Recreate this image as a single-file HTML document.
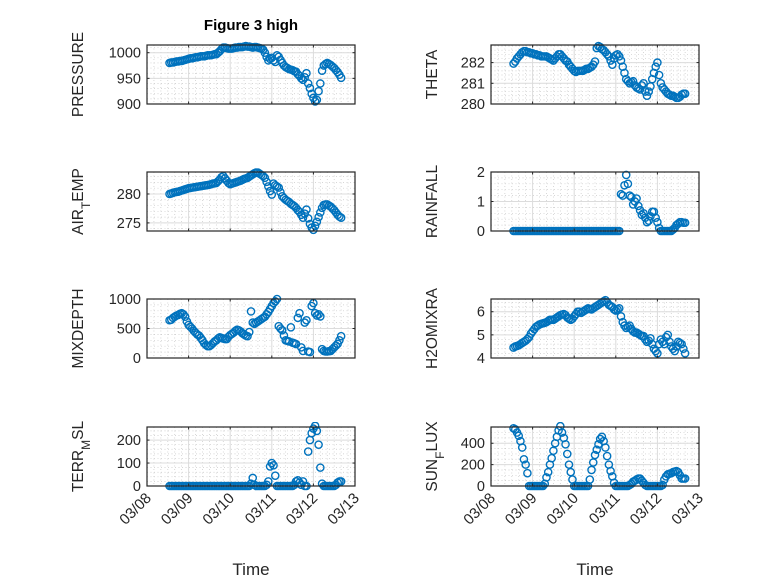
<!DOCTYPE html>
<html><head><meta charset="utf-8"><style>
html,body{margin:0;padding:0;background:#fff;}
svg{display:block;font-family:"Liberation Sans",sans-serif;}
</style></head><body>
<svg id="fig" width="778" height="583" viewBox="0 0 778 583" xmlns="http://www.w3.org/2000/svg">
<rect width="778" height="583" fill="#ffffff"/>
<text x="251" y="30" font-size="15" font-weight="bold" text-anchor="middle" fill="#000">Figure 3 high</text>
</svg>
<script>
const hours = [13,14,15,16,17,18,19,20,21,22,23,24,25,26,27,28,29,30,31,32,33,34,35,36,37,38,39,40,41,42,43,44,45,46,47,48,49,50,51,52,53,54,55,56,57,58,59,60,61,62,63,64,65,66,67,68,69,70,71,72,73,74,75,76,77,78,79,80,81,82,83,84,85,86,87,88,89,90,91,92,93,94,95,96,97,98,99,100,101,102,103,104,105,106,107,108,109,110,111,112];
const xTickLabels = ["03/08","03/09","03/10","03/11","03/12","03/13"];
const pressure = [980,981,981,982,983,983,984,984,985,986,987,988,989,989,990,991,991,992,993,993,993,994,995,995,995,996,997,997,1000,1003,1007,1010,1010,1009,1008,1008,1008,1009,1010,1010,1011,1011,1011,1012,1013,1012,1012,1011,1010,1011,1011,1010,1009,1008,1006,1000,992,985,988,990,985,982,995,992,986,980,975,972,970,968,967,966,964,963,958,955,950,947,952,960,940,931,920,912,905,908,925,940,965,975,978,980,978,976,973,970,966,962,957,951];
const theta = [281.95,282.05,282.2,282.3,282.4,282.5,282.55,282.55,282.5,282.5,282.45,282.45,282.4,282.4,282.35,282.35,282.3,282.3,282.3,282.3,282.25,282.2,282.15,282.1,282.2,282.3,282.4,282.4,282.3,282.2,282.1,282.05,281.9,281.8,281.7,281.6,281.55,281.6,281.6,281.6,281.6,281.65,281.7,281.7,281.75,281.8,281.9,282.05,282.7,282.8,282.75,282.65,282.6,282.5,282.4,282.3,282.1,281.9,282.2,282.35,282.4,282.3,282.1,281.8,281.5,281.2,281.1,281.0,281.05,281.1,280.9,280.8,280.75,280.7,280.9,281.0,280.6,280.4,280.6,280.85,281.2,281.5,281.8,282.0,281.4,281.0,280.8,280.7,280.6,280.5,280.45,280.4,280.4,280.35,280.3,280.3,280.35,280.45,280.5,280.5];
const airTemp = [280.0,280.1,280.2,280.3,280.35,280.4,280.5,280.6,280.7,280.8,280.9,281.0,281.05,281.1,281.15,281.2,281.25,281.3,281.35,281.4,281.45,281.5,281.55,281.6,281.7,281.8,281.85,281.9,282.2,282.5,282.9,283.1,282.7,282.3,281.9,281.7,281.8,281.9,282.0,282.1,282.2,282.3,282.45,282.6,282.7,282.8,283.0,283.2,283.4,283.6,283.7,283.7,283.5,283.3,283.1,282.8,282.1,281.3,280.5,279.9,281.8,281.5,281.3,281.1,280.3,279.6,279.3,279.0,278.8,278.6,278.3,278.1,277.9,277.6,277.2,276.9,276.4,275.9,276.6,277.3,275.8,274.8,274.2,273.8,274.5,275.2,276.0,276.8,277.6,278.1,278.2,278.2,278.0,277.8,277.5,277.2,276.8,276.4,276.1,275.9];
const rainfall = [0,0,0,0,0,0,0,0,0,0,0,0,0,0,0,0,0,0,0,0,0,0,0,0,0,0,0,0,0,0,0,0,0,0,0,0,0,0,0,0,0,0,0,0,0,0,0,0,0,0,0,0,0,0,0,0,0,0,0,0,0,0,1.25,1.2,1.55,1.9,1.6,1.2,1.15,0.9,1.0,1.1,0.85,0.7,0.55,0.6,0.45,0.3,0.35,0.5,0.65,0.65,0.45,0.3,0.1,0,0,0,0,0,0,0,0.05,0.1,0.2,0.25,0.3,0.3,0.28,0.28];
const mixDepth = [640,650,680,700,720,730,750,760,740,700,620,560,530,500,460,430,400,380,340,300,250,220,200,200,220,250,280,300,330,350,340,330,320,320,360,390,410,430,460,480,470,450,420,400,380,370,440,790,600,580,600,620,640,660,680,700,740,780,830,880,930,960,1000,540,500,470,380,300,290,280,520,260,250,235,680,760,180,120,600,640,110,100,880,930,760,720,740,705,150,120,110,110,115,120,150,180,210,240,300,370];
const h2oMixRa = [4.45,4.5,4.52,4.55,4.6,4.65,4.7,4.75,4.82,4.9,5.05,5.15,5.25,5.35,5.4,5.45,5.48,5.5,5.52,5.55,5.6,5.65,5.65,5.65,5.7,5.75,5.8,5.85,5.88,5.9,5.85,5.75,5.7,5.65,5.7,5.8,5.9,6.0,6.0,5.95,6.0,6.05,6.1,6.15,6.12,6.1,6.15,6.2,6.25,6.3,6.35,6.4,6.45,6.5,6.4,6.3,6.25,6.2,6.1,6.05,6.1,6.15,5.8,5.55,5.4,5.3,5.35,5.4,5.25,5.15,5.1,5.1,5.05,5.0,4.95,4.95,4.8,4.7,4.75,4.85,4.6,4.4,4.3,4.2,4.6,4.8,4.7,4.6,4.9,5.0,4.7,4.5,4.4,4.3,4.5,4.7,4.65,4.6,4.4,4.2];
const terrMsl = [0,0,0,0,0,0,0,0,0,0,0,0,0,0,0,0,0,0,0,0,0,0,0,0,0,0,0,0,0,0,0,0,0,0,0,0,0,0,0,0,0,0,0,0,0,0,0,10,35,5,0,0,0,0,0,0,5,20,85,100,90,45,0,0,0,0,0,0,0,0,0,0,5,20,25,15,5,20,0,0,150,200,230,250,262,240,180,80,10,0,0,0,0,0,0,0,5,15,20,20];
const sunFlux = [540,530,500,470,420,360,250,200,120,0,0,0,0,0,0,0,0,0,20,80,130,200,260,330,400,460,520,560,500,450,390,300,200,130,60,0,0,0,0,0,0,0,0,0,60,150,220,290,340,390,440,460,420,360,280,200,140,90,30,0,0,0,0,0,0,0,0,10,20,40,50,60,70,70,50,30,10,0,0,0,0,0,0,0,0,0,10,60,90,110,115,120,130,135,140,130,100,70,70,70];
const pressureTicks = [900,950,1000];
const thetaTicks = [280,281,282];
const airTempTicks = [275,280];
const rainTicks = [0,1,2];
const mixTicks = [0,500,1000];
const h2oTicks = [4,5,6];
const terrTicks = [0,100,200];
const sunTicks = [0,200,400];

const NS = "http://www.w3.org/2000/svg";
const svg = document.getElementById("fig");
function mk(tag, attrs, parent){
  const e = document.createElementNS(NS, tag);
  for (const k in attrs) e.setAttribute(k, attrs[k]);
  (parent||svg).appendChild(e);
  return e;
}
const AX_W = 208, AX_H = 59;
const COLS = [147, 491];
const ROWS = [45, 172, 299, 427];

function panel(name, col, row, ylo, yhi, ticks, minorStep, vals, labelParts, showX){
  const L = COLS[col], T = ROWS[row], R = L + AX_W, B = T + AX_H;
  const xs = d => L + d / 5 * AX_W;
  const ys = v => B - (v - ylo) / (yhi - ylo) * AX_H;
  const g = mk("g", {});
  
  
  mk("rect", {x:L, y:T, width:AX_W, height:AX_H, fill:"#fff"}, g);
  for (let d = 0; d <= 5; d += 1/6) {
    const x = xs(d);
    mk("line", {x1:x, x2:x, y1:T, y2:B, stroke:"#c8c8c8", "stroke-width":0.7, "stroke-dasharray":"1,2.5"}, g);
  }
  for (let v = Math.ceil(ylo/minorStep)*minorStep; v <= yhi; v += minorStep) {
    const y = ys(v);
    mk("line", {x1:L, x2:R, y1:y, y2:y, stroke:"#c8c8c8", "stroke-width":0.7, "stroke-dasharray":"1,2.5"}, g);
  }
  for (let d = 0; d <= 5; d++) {
    const x = xs(d);
    mk("line", {x1:x, x2:x, y1:T, y2:B, stroke:"#dcdcdc", "stroke-width":1}, g);
  }
  ticks.forEach(v => {
    const y = ys(v);
    mk("line", {x1:L, x2:R, y1:y, y2:y, stroke:"#dcdcdc", "stroke-width":1}, g);
  });
  const clipId = "clip-" + name;
  const cp = mk("clipPath", {id:clipId}, g);
  mk("rect", {x:L-5, y:T-5, width:AX_W+10, height:AX_H+10}, cp);
  const dg = mk("g", {"clip-path":"url(#"+clipId+")"}, g);
  
  
  vals.forEach((v, i) => {
    const c = mk("circle", {cx:xs(hours[i]/24), cy:ys(v), r:3.6, fill:"none", stroke:"#0072BD", "stroke-width":1.4}, dg);
    
    
  });
  mk("rect", {x:L, y:T, width:AX_W, height:AX_H, fill:"none", stroke:"#262626", "stroke-width":1.2}, g);
  for (let d = 0; d <= 5; d++) {
    const x = xs(d);
    mk("line", {x1:x, x2:x, y1:B, y2:B-2.5, stroke:"#262626"}, g);
    mk("line", {x1:x, x2:x, y1:T, y2:T+2.5, stroke:"#262626"}, g);
  }
  ticks.forEach(v => {
    const y = ys(v);
    mk("line", {x1:L, x2:L+2.5, y1:y, y2:y, stroke:"#262626"}, g);
    mk("line", {x1:R, x2:R-2.5, y1:y, y2:y, stroke:"#262626"}, g);
    const t = mk("text", {x:L-6, y:y+5, "font-size":14.5, "text-anchor":"end", fill:"#262626"}, g);
    t.textContent = v;
    
    
  });
  const lx = col === 0 ? 83 : 437;
  const ly = (T + B) / 2;
  const yl = mk("text", {x:lx, y:ly, "font-size":15.5, "text-anchor":"middle", fill:"#262626", transform:"rotate(-90 "+lx+" "+ly+")"}, g);
  
  
  labelParts.forEach(p => {
    const ts = mk("tspan", {}, yl);
    ts.textContent = p[0];
    if (p[1]) { ts.setAttribute("baseline-shift", "sub"); ts.setAttribute("font-size", "12"); }
  });
  if (showX) {
    xTickLabels.forEach((lab, d) => {
      const x = xs(d) + 5, y = B + 13;
      const t = mk("text", {x:x, y:y, "font-size":15, "text-anchor":"end", fill:"#262626", transform:"rotate(-45 "+x+" "+y+")"}, g);
      t.textContent = lab;
      
      
    });
    const xt = mk("text", {x:L + AX_W/2, y:575, "font-size":17, "text-anchor":"middle", fill:"#262626"}, g);
    xt.textContent = "Time";
    
    
  }
}
panel("pressure", 0, 0, 900, 1015, pressureTicks, 10, pressure, [["PRESSURE"]], false);
panel("theta", 1, 0, 280, 282.85, thetaTicks, 0.2, theta, [["THETA"]], false);
panel("air-temp", 0, 1, 273.6, 283.8, airTempTicks, 1, airTemp, [["AIR"],["T",1],["EMP"]], false);
panel("rainfall", 1, 1, 0, 2, rainTicks, 0.2, rainfall, [["RAINFALL"]], false);
panel("mixdepth", 0, 2, 0, 1000, mixTicks, 100, mixDepth, [["MIXDEPTH"]], false);
panel("h2omixra", 1, 2, 4, 6.55, h2oTicks, 0.2, h2oMixRa, [["H2OMIXRA"]], false);
panel("terr-msl", 0, 3, 0, 257, terrTicks, 20, terrMsl, [["TERR"],["M",1],["SL"]], true);
panel("sun-flux", 1, 3, 0, 552, sunTicks, 50, sunFlux, [["SUN"],["F",1],["LUX"]], true);
</script>
</body></html>
